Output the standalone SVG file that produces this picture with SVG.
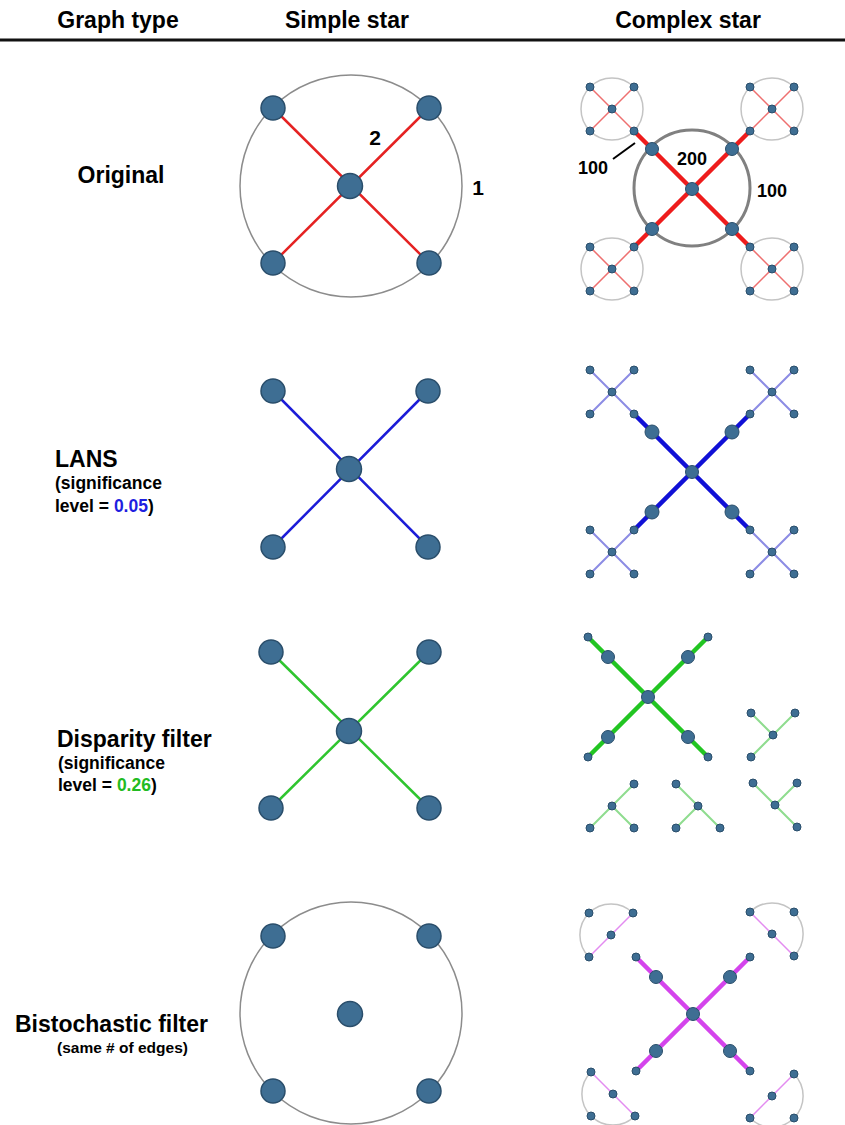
<svg xmlns="http://www.w3.org/2000/svg" width="845" height="1125" viewBox="0 0 845 1125">
<style>
text{font-family:"Liberation Sans",Arial,Helvetica,sans-serif;font-weight:bold;fill:#000}
.h{font-size:23px;text-anchor:middle}
.l{font-size:23px}
.s{font-size:17.5px}
.s2{font-size:15.5px}
.w{font-size:21px;text-anchor:middle}
.w2{font-size:18px;text-anchor:middle}
.n{fill:#3e6e93;stroke:#2a4e6b;stroke-width:1.5}
.m{fill:#3e6e93;stroke:#2a4e6b;stroke-width:1}
.ring{fill:none;stroke:#8c8c8c;stroke-width:1.5}
.ring2{fill:none;stroke:#808080;stroke-width:3}
.ring3{fill:none;stroke:#c4c4c4;stroke-width:1.5}
#connectors path{fill:none}
.r{stroke:#e52222;stroke-width:2.5}
.b{stroke:#1c1cd8;stroke-width:2.5}
.g{stroke:#2fc52f;stroke-width:2.5}
.rt{stroke:#ee1c1c;stroke-width:4.5}
.bt{stroke:#1010d6;stroke-width:4.5}
.gt{stroke:#22c522;stroke-width:4.5}
.pt{stroke:#d444ec;stroke-width:4.5}
.rl{stroke:#ee7070;stroke-width:1.5}
.bl{stroke:#8c8ce4;stroke-width:2}
.gl{stroke:#8fdc8f;stroke-width:2}
.pl{stroke:#e38cf0;stroke-width:1.5}
</style>

<g id="header">
<text class="h" x="118" y="28">Graph type</text>
<text class="h" x="347" y="28">Simple star</text>
<text class="h" x="688" y="28">Complex star</text>
<rect x="0" y="38.5" width="845" height="3" fill="#111"/>
</g>

<g id="row-labels">
<text class="h" x="121" y="183">Original</text>
<text class="l" x="55" y="467">LANS</text>
<text class="s" x="55" y="489">(significance</text>
<text class="s" x="55" y="512">level = <tspan fill="#1f1fe0">0.05</tspan>)</text>
<text class="l" x="57" y="747">Disparity filter</text>
<text class="s" x="58" y="769">(significance</text>
<text class="s" x="58" y="791">level = <tspan fill="#22bb22">0.26</tspan>)</text>
<text class="l" x="15" y="1032">Bistochastic filter</text>
<text class="s2" x="57" y="1053">(same # of edges)</text>
</g>

<g id="weight-labels">
<text class="w" x="375" y="145">2</text>
<text class="w" x="478" y="195">1</text>
<text class="w2" x="692" y="165">200</text>
<text class="w2" x="772" y="197">100</text>
<text class="w2" x="593" y="174">100</text>
<line x1="613" y1="159" x2="635" y2="143" stroke="#000" stroke-width="2"/>
</g>

<g id="rings">
<circle class="ring" cx="351" cy="186" r="111"/>
<circle class="ring" cx="351" cy="1013" r="111"/>
<circle class="ring2" cx="692" cy="188" r="58"/>
<circle class="ring3" cx="612" cy="109" r="31"/>
<circle class="ring3" cx="772" cy="109" r="31"/>
<circle class="ring3" cx="612" cy="269" r="31"/>
<circle class="ring3" cx="772" cy="269" r="31"/>
<path class="ring3" d="M589,957 A31.1,31.1 0 0 1 633,913"/>
<path class="ring3" d="M750,912 A31.1,31.1 0 0 1 794,956"/>
<path class="ring3" d="M591,1072 A31.1,31.1 0 0 0 635,1116"/>
<path class="ring3" d="M794,1074 A31.1,31.1 0 0 1 750,1118"/>
</g>

<g id="connectors">
<path class="r" d="M273,108 L429,263 M429,108 L273,263"/>
<path class="b" d="M273,391 L428,547 M428,391 L273,547"/>
<path class="g" d="M271,652 L429,808 M429,652 L271,808"/>
<path class="rl" d="M590,87 L634,131 M634,87 L590,131 M750,87 L794,131 M794,87 L750,131 M590,247 L634,291 M634,247 L590,291 M750,247 L794,291 M794,247 L750,291"/>
<path class="rt" d="M634,131 L750,247 M750,131 L634,247"/>
<path class="bl" d="M590,370 L634,414 M634,370 L590,414 M750,370 L794,414 M794,370 L750,414 M590,530 L634,574 M634,530 L590,574 M750,530 L794,574 M794,530 L750,574"/>
<path class="bt" d="M634,414 L750,530 M750,414 L634,530"/>
<path class="gt" d="M588,637 L708,757 M708,637 L588,757"/>
<path class="gl" d="M751,713 L773,735 M773,735 L795,713 M773,735 L751,757 M634,784 L590,828 M612,806 L634,828 M676,784 L720,828 M698,806 L676,828 M753,783 L797,827 M775,805 L797,783"/>
<path class="pt" d="M636,957 L750,1071 M750,957 L636,1071"/>
<path class="pl" d="M633,913 L589,957 M750,912 L794,956 M591,1072 L635,1116 M794,1074 L750,1118"/>
</g>

<g id="simple-original">
<g id="so-c"><circle class="n" cx="350" cy="186" r="12.5"/></g>
<g id="so-1"><circle class="n" cx="273" cy="108" r="12"/></g>
<g id="so-2"><circle class="n" cx="429" cy="108" r="12"/></g>
<g id="so-3"><circle class="n" cx="273" cy="263" r="12"/></g>
<g id="so-4"><circle class="n" cx="429" cy="263" r="12"/></g>
</g>
<g id="simple-lans">
<g id="sl-c"><circle class="n" cx="349" cy="469" r="12.5"/></g>
<g id="sl-1"><circle class="n" cx="273" cy="391" r="12"/></g>
<g id="sl-2"><circle class="n" cx="428" cy="391" r="12"/></g>
<g id="sl-3"><circle class="n" cx="273" cy="547" r="12"/></g>
<g id="sl-4"><circle class="n" cx="428" cy="547" r="12"/></g>
</g>
<g id="simple-disparity">
<g id="sd-c"><circle class="n" cx="349" cy="731" r="12.5"/></g>
<g id="sd-1"><circle class="n" cx="271" cy="652" r="12"/></g>
<g id="sd-2"><circle class="n" cx="429" cy="652" r="12"/></g>
<g id="sd-3"><circle class="n" cx="271" cy="808" r="12"/></g>
<g id="sd-4"><circle class="n" cx="429" cy="808" r="12"/></g>
</g>
<g id="simple-bistochastic">
<g id="sb-c"><circle class="n" cx="350" cy="1014" r="12.5"/></g>
<g id="sb-1"><circle class="n" cx="273" cy="936" r="12"/></g>
<g id="sb-2"><circle class="n" cx="429" cy="936" r="12"/></g>
<g id="sb-3"><circle class="n" cx="273" cy="1091" r="12"/></g>
<g id="sb-4"><circle class="n" cx="429" cy="1091" r="12"/></g>
</g>

<g id="complex-original">
<g id="co-c"><circle class="m" cx="692" cy="189" r="6.5"/></g>
<g id="co-m1"><circle class="m" cx="652" cy="149" r="6.5"/></g>
<g id="co-m2"><circle class="m" cx="732" cy="149" r="6.5"/></g>
<g id="co-m3"><circle class="m" cx="652" cy="229" r="6.5"/></g>
<g id="co-m4"><circle class="m" cx="732" cy="229" r="6.5"/></g>
<g id="co-a0"><circle class="m" cx="612" cy="109" r="4"/></g>
<g id="co-a1"><circle class="m" cx="590" cy="87" r="4"/></g>
<g id="co-a2"><circle class="m" cx="634" cy="87" r="4"/></g>
<g id="co-a3"><circle class="m" cx="590" cy="131" r="4"/></g>
<g id="co-a4"><circle class="m" cx="634" cy="131" r="4"/></g>
<g id="co-b0"><circle class="m" cx="772" cy="109" r="4"/></g>
<g id="co-b1"><circle class="m" cx="750" cy="87" r="4"/></g>
<g id="co-b2"><circle class="m" cx="794" cy="87" r="4"/></g>
<g id="co-b3"><circle class="m" cx="750" cy="131" r="4"/></g>
<g id="co-b4"><circle class="m" cx="794" cy="131" r="4"/></g>
<g id="co-c0"><circle class="m" cx="612" cy="269" r="4"/></g>
<g id="co-c1"><circle class="m" cx="590" cy="247" r="4"/></g>
<g id="co-c2"><circle class="m" cx="634" cy="247" r="4"/></g>
<g id="co-c3"><circle class="m" cx="590" cy="291" r="4"/></g>
<g id="co-c4"><circle class="m" cx="634" cy="291" r="4"/></g>
<g id="co-d0"><circle class="m" cx="772" cy="269" r="4"/></g>
<g id="co-d1"><circle class="m" cx="750" cy="247" r="4"/></g>
<g id="co-d2"><circle class="m" cx="794" cy="247" r="4"/></g>
<g id="co-d3"><circle class="m" cx="750" cy="291" r="4"/></g>
<g id="co-d4"><circle class="m" cx="794" cy="291" r="4"/></g>
</g>

<g id="complex-lans">
<g id="cl-c"><circle class="m" cx="692" cy="472" r="6.5"/></g>
<g id="cl-m1"><circle class="m" cx="652" cy="432" r="7"/></g>
<g id="cl-m2"><circle class="m" cx="732" cy="432" r="7"/></g>
<g id="cl-m3"><circle class="m" cx="652" cy="512" r="7"/></g>
<g id="cl-m4"><circle class="m" cx="732" cy="512" r="7"/></g>
<g id="cl-a0"><circle class="m" cx="612" cy="392" r="4"/></g>
<g id="cl-a1"><circle class="m" cx="590" cy="370" r="4"/></g>
<g id="cl-a2"><circle class="m" cx="634" cy="370" r="4"/></g>
<g id="cl-a3"><circle class="m" cx="590" cy="414" r="4"/></g>
<g id="cl-a4"><circle class="m" cx="634" cy="414" r="4"/></g>
<g id="cl-b0"><circle class="m" cx="772" cy="392" r="4"/></g>
<g id="cl-b1"><circle class="m" cx="750" cy="370" r="4"/></g>
<g id="cl-b2"><circle class="m" cx="794" cy="370" r="4"/></g>
<g id="cl-b3"><circle class="m" cx="750" cy="414" r="4"/></g>
<g id="cl-b4"><circle class="m" cx="794" cy="414" r="4"/></g>
<g id="cl-c0"><circle class="m" cx="612" cy="552" r="4"/></g>
<g id="cl-c1"><circle class="m" cx="590" cy="530" r="4"/></g>
<g id="cl-c2"><circle class="m" cx="634" cy="530" r="4"/></g>
<g id="cl-c3"><circle class="m" cx="590" cy="574" r="4"/></g>
<g id="cl-c4"><circle class="m" cx="634" cy="574" r="4"/></g>
<g id="cl-d0"><circle class="m" cx="772" cy="552" r="4"/></g>
<g id="cl-d1"><circle class="m" cx="750" cy="530" r="4"/></g>
<g id="cl-d2"><circle class="m" cx="794" cy="530" r="4"/></g>
<g id="cl-d3"><circle class="m" cx="750" cy="574" r="4"/></g>
<g id="cl-d4"><circle class="m" cx="794" cy="574" r="4"/></g>
</g>

<g id="complex-disparity">
<g id="cd-c"><circle class="m" cx="648" cy="697" r="6.5"/></g>
<g id="cd-m1"><circle class="m" cx="608" cy="657" r="6.5"/></g>
<g id="cd-m2"><circle class="m" cx="688" cy="657" r="6.5"/></g>
<g id="cd-m3"><circle class="m" cx="608" cy="737" r="6.5"/></g>
<g id="cd-m4"><circle class="m" cx="688" cy="737" r="6.5"/></g>
<g id="cd-e1"><circle class="m" cx="588" cy="637" r="4"/></g>
<g id="cd-e2"><circle class="m" cx="708" cy="637" r="4"/></g>
<g id="cd-e3"><circle class="m" cx="588" cy="757" r="4"/></g>
<g id="cd-e4"><circle class="m" cx="708" cy="757" r="4"/></g>
<g id="cd-a0"><circle class="m" cx="773" cy="735" r="4"/></g>
<g id="cd-a1"><circle class="m" cx="751" cy="713" r="4"/></g>
<g id="cd-a2"><circle class="m" cx="795" cy="713" r="4"/></g>
<g id="cd-a3"><circle class="m" cx="751" cy="757" r="4"/></g>
<g id="cd-b0"><circle class="m" cx="612" cy="806" r="4"/></g>
<g id="cd-b1"><circle class="m" cx="634" cy="784" r="4"/></g>
<g id="cd-b2"><circle class="m" cx="590" cy="828" r="4"/></g>
<g id="cd-b3"><circle class="m" cx="634" cy="828" r="4"/></g>
<g id="cd-c0"><circle class="m" cx="698" cy="806" r="4"/></g>
<g id="cd-c1"><circle class="m" cx="676" cy="784" r="4"/></g>
<g id="cd-c2"><circle class="m" cx="676" cy="828" r="4"/></g>
<g id="cd-c3"><circle class="m" cx="720" cy="828" r="4"/></g>
<g id="cd-d0"><circle class="m" cx="775" cy="805" r="4"/></g>
<g id="cd-d1"><circle class="m" cx="753" cy="783" r="4"/></g>
<g id="cd-d2"><circle class="m" cx="797" cy="783" r="4"/></g>
<g id="cd-d3"><circle class="m" cx="797" cy="827" r="4"/></g>
</g>

<g id="complex-bistochastic">
<g id="cb-c"><circle class="m" cx="693" cy="1014" r="6.5"/></g>
<g id="cb-m1"><circle class="m" cx="656" cy="977" r="6.5"/></g>
<g id="cb-m2"><circle class="m" cx="730" cy="977" r="6.5"/></g>
<g id="cb-m3"><circle class="m" cx="656" cy="1051" r="6.5"/></g>
<g id="cb-m4"><circle class="m" cx="730" cy="1051" r="6.5"/></g>
<g id="cb-e1"><circle class="m" cx="636" cy="957" r="4"/></g>
<g id="cb-e2"><circle class="m" cx="750" cy="957" r="4"/></g>
<g id="cb-e3"><circle class="m" cx="636" cy="1071" r="4"/></g>
<g id="cb-e4"><circle class="m" cx="750" cy="1071" r="4"/></g>
<g id="cb-a0"><circle class="m" cx="611" cy="935" r="4"/></g>
<g id="cb-a1"><circle class="m" cx="589" cy="913" r="4"/></g>
<g id="cb-a2"><circle class="m" cx="633" cy="913" r="4"/></g>
<g id="cb-a3"><circle class="m" cx="589" cy="957" r="4"/></g>
<g id="cb-b0"><circle class="m" cx="772" cy="934" r="4"/></g>
<g id="cb-b1"><circle class="m" cx="750" cy="912" r="4"/></g>
<g id="cb-b2"><circle class="m" cx="794" cy="912" r="4"/></g>
<g id="cb-b3"><circle class="m" cx="794" cy="956" r="4"/></g>
<g id="cb-c0"><circle class="m" cx="613" cy="1094" r="4"/></g>
<g id="cb-c1"><circle class="m" cx="591" cy="1072" r="4"/></g>
<g id="cb-c2"><circle class="m" cx="591" cy="1116" r="4"/></g>
<g id="cb-c3"><circle class="m" cx="635" cy="1116" r="4"/></g>
<g id="cb-d0"><circle class="m" cx="772" cy="1096" r="4"/></g>
<g id="cb-d1"><circle class="m" cx="794" cy="1074" r="4"/></g>
<g id="cb-d2"><circle class="m" cx="750" cy="1118" r="4"/></g>
<g id="cb-d3"><circle class="m" cx="794" cy="1118" r="4"/></g>
</g>
</svg>
